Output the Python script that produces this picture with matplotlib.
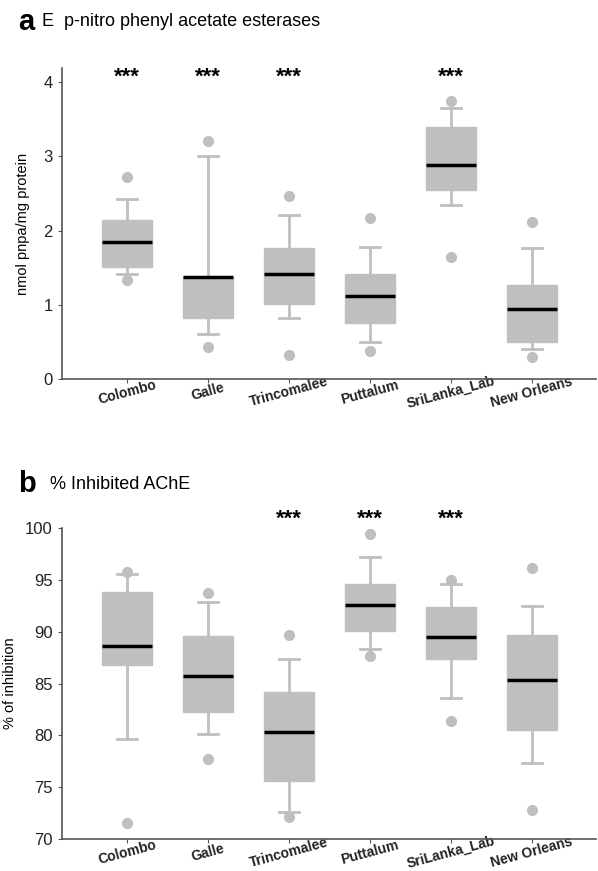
import numpy as np
import matplotlib
matplotlib.use('Agg')
import matplotlib.pyplot as plt

plt.rcParams['font.family'] = ['Liberation Sans', 'DejaVu Sans']

sites = ['Colombo', 'Galle', 'Trincomalee', 'Puttalum', 'SriLanka_Lab', 'New Orleans']

# panel a: p-nitro phenyl acetate esterases (nmol pnpa/mg protein)
a_med = [1.85, 1.38, 1.42, 1.12, 2.89, 0.94]
a_q1 = [1.51, 0.82, 1.01, 0.75, 2.54, 0.50]
a_q3 = [2.14, 1.38, 1.77, 1.41, 3.40, 1.27]
a_lo = [1.41, 0.61, 0.82, 0.50, 2.35, 0.41]
a_hi = [2.43, 3.01, 2.21, 1.78, 3.65, 1.77]
a_fliers = [[2.72, 1.34], [3.20, 0.43], [2.47, 0.32], [2.17, 0.38], [3.74, 1.65], [2.12, 0.29]]
a_stars = [True, True, True, False, True, False]

# panel b: % inhibited AChE
b_med = [88.6, 85.75, 80.36, 92.58, 89.5, 85.36]
b_q1 = [86.78, 82.28, 75.64, 90.08, 87.38, 80.52]
b_q3 = [93.83, 89.57, 84.18, 94.6, 92.33, 89.66]
b_lo = [79.65, 80.17, 72.66, 88.32, 83.57, 77.31]
b_hi = [95.5, 92.84, 87.38, 97.2, 94.57, 92.48]
b_fliers = [[95.7, 71.6], [93.73, 77.7], [89.66, 72.18], [99.38, 87.67], [94.93, 81.41], [96.08, 72.85]]
b_stars = [False, False, True, True, True, False]

grey = '#bfbfbf'
axcol = '#555555'


def draw_panel(ax, med, q1, q3, lo, hi, fliers, stars, star_y):
    stats = []
    for i in range(len(sites)):
        stats.append(dict(med=med[i], q1=q1[i], q3=q3[i], whislo=lo[i], whishi=hi[i],
                          fliers=fliers[i], label=sites[i]))
    pos = np.arange(1, len(sites) + 1)
    ax.bxp(stats, positions=pos, widths=0.62, patch_artist=True,
           boxprops=dict(facecolor=grey, edgecolor=grey, linewidth=1),
           medianprops=dict(color='black', linewidth=2.5),
           whiskerprops=dict(color=grey, linewidth=2),
           capprops=dict(color=grey, linewidth=2),
           flierprops=dict(marker='o', markerfacecolor=grey, markeredgecolor=grey, markersize=7),
           capwidths=0.24)
    for i, s in enumerate(stars):
        if s:
            ax.text(pos[i], star_y, '***', ha='center', va='center', fontsize=16, fontweight='bold')
    for sp in ['top', 'right']:
        ax.spines[sp].set_visible(False)
    for sp in ['left', 'bottom']:
        ax.spines[sp].set_color(axcol)
        ax.spines[sp].set_linewidth(1.2)
    ax.tick_params(colors=axcol, labelcolor='#222222', labelsize=12, length=3)
    ax.tick_params(axis='x', pad=6.5)
    ax.set_xticks(pos)
    ax.set_xticklabels(sites, rotation=15, fontweight='bold', fontsize=10,
                       ha='center', va='center', rotation_mode='anchor')
    ax.set_xlim(0.198, 6.79)


fig = plt.figure(figsize=(5.98, 8.71), dpi=100)

ax1 = fig.add_axes([0.1037, 0.5649, 0.893, 0.357])
draw_panel(ax1, a_med, a_q1, a_q3, a_lo, a_hi, a_fliers, a_stars, 4.06)
ax1.set_ylim(0, 4.19)
ax1.set_yticks([0, 1, 2, 3, 4])
ax1.set_ylabel('nmol pnpa/mg protein', fontsize=10.5)
ax1.yaxis.set_label_coords(-0.06, 0.5)

ax2 = fig.add_axes([0.1037, 0.0364, 0.893, 0.3577])
draw_panel(ax2, b_med, b_q1, b_q3, b_lo, b_hi, b_fliers, b_stars, 100.8)
ax2.set_ylim(70, 100)
ax2.set_yticks([70, 75, 80, 85, 90, 95, 100])
ax2.set_ylabel('% of inhibition', fontsize=10.5)
ax2.yaxis.set_label_coords(-0.085, 0.5)

fig.text(18 / 598, 1 - 22 / 871, 'a', fontsize=21, fontweight='bold', va='center')
fig.text(42 / 598, 1 - 22 / 871, 'E  p-nitro phenyl acetate esterases', fontsize=13, va='center')
fig.text(18 / 598, 1 - 484 / 871, 'b', fontsize=21, fontweight='bold', va='center')
fig.text(50 / 598, 1 - 484 / 871, '% Inhibited AChE', fontsize=13, va='center')

fig.savefig('out.png', dpi=100)
